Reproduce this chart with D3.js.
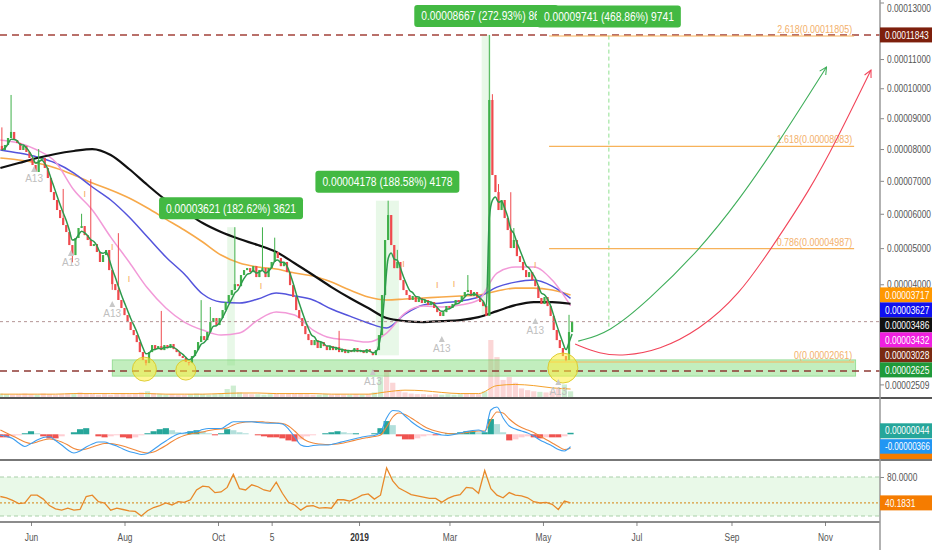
<!DOCTYPE html>
<html><head><meta charset="utf-8">
<script src="https://cdn.jsdelivr.net/npm/d3@7"></script>
<style>
html,body{margin:0;padding:0;background:#fff;}
svg{display:block;font-family:"Liberation Sans",Arial,sans-serif;}
</style></head><body>
<svg id="c" width="932" height="550"></svg>
<script>
// ---------------- DATA (prices in units of 1e-8) ----------------
const candleStart = "2018-05-12";      // one candle = 2 days
const firstOpen = 8100;
const closes = [7969,8130,8355,8550,8291,8195,7969,8100,7905,7715,7493,7275,7650,7715,7400,7087,6655,6413,6112,5873,
5667,5463,5088,4804,5290,5580,5638,5374,5232,5060,5117,4890,4610,4804,4946,4386,4004,3845,3583,3375,
3194,3018,2820,2696,2527,2290,2106,2037,2290,2455,2360,2431,2337,2455,2385,2480,2360,2290,2197,2152,
2060,2037,2197,2337,2527,2670,2575,2770,3018,3118,2943,3118,3322,3530,3713,3845,4004,3950,4250,4386,
4440,4330,4495,4195,4386,4440,4195,4440,4610,4890,4720,4495,4610,4330,3978,3660,3322,3118,2918,2720,
2575,2455,2575,2385,2527,2431,2337,2431,2337,2408,2290,2360,2267,2337,2290,2385,2290,2337,2267,2360,
2290,2220,2337,2696,3713,5232,5963,5088,4440,4610,4113,3845,3713,3583,3687,3530,3635,3505,3583,3451,
3530,3375,3270,3170,3270,3425,3375,3478,3583,3530,3687,3792,3845,3687,3792,3635,3530,3425,3176,9606,
7180,6655,6112,6413,5873,5521,5003,5232,4775,4610,4386,4195,4330,4113,3950,3635,3478,3660,3425,3170,
2820,2575,2385,2197,2106,2770,3028];
const wickHighs = [[0,8700],[3,9774],[12,8000],[20,6750],[26,6000],[29,7050],[38,5430],[52,3300],[65,3580],[68,3400],
[76,5604],[85,5600],[89,5300],[110,2800],[126,6393],[129,4950],[152,4250],[159,11843],[160,9800],[162,6900],[166,6650],[167,5580],[185,3200]];
const wickLows = [[23,4600],[36,3850],[47,1983],[61,1983],[121,2215],[184,2078]];

// indicators sampled every 4 days from candleStart
const macdLine = [-21,-65,-124,-257,-360,-271,-168,-94,-71,-183,-316,-463,-552,-493,-375,-286,-227,-227,-286,-345,
-434,-507,-552,-596,-566,-448,-316,-198,-80,9,38,68,83,142,171,171,171,274,372,372,
372,372,348,333,325,325,304,156,-80,-316,-360,-330,-316,-316,-301,-257,-212,-168,-124,-80,
-50,-35,68,481,702,687,540,378,245,142,83,24,-21,-35,-6,38,83,112,127,68,
717,805,481,245,156,97,38,-50,-168,-257,-345,-448,-493,-366];
const signalLine = [127,38,-50,-139,-227,-271,-227,-168,-139,-168,-227,-316,-419,-463,-434,-375,-316,-271,-271,-301,
-345,-404,-463,-522,-552,-522,-434,-330,-212,-109,-35,9,38,68,112,142,156,186,274,333,
363,372,372,363,348,333,319,245,97,-80,-198,-257,-286,-301,-301,-286,-257,-212,-168,-124,
-94,-65,-21,215,510,628,584,481,363,245,156,97,53,24,9,24,53,83,97,97,
422,658,628,451,304,201,127,53,-50,-153,-257,-360,-448,-410];
const macdHist = [-90,-90,-60,-30,30,90,30,-60,-120,-120,-60,0,60,150,180,0,-60,-90,-60,-30,
-90,-120,-90,-30,30,90,150,180,120,60,30,90,120,90,30,-30,30,150,120,60,
30,0,-30,-60,-90,-90,-120,-180,-210,-150,-60,-30,0,30,60,90,60,30,30,0,
0,30,180,390,270,-60,-150,-150,-120,-60,-30,-30,0,30,30,60,90,90,60,60,
450,300,60,-180,-150,-90,-60,-90,-120,-90,-90,-90,-60,44];
const rsi = [50,48,44,39,40,52,52,46,36,31,29,32,29,30,50,52,42,40,29,32,
30,28,27,20,28,33,36,40,37,42,41,45,60,66,65,56,57,64,84,62,
60,68,65,60,58,72,55,41,37,29,35,36,32,33,32,45,45,43,47,52,
54,46,52,94,74,63,58,53,51,49,47,47,41,47,51,53,64,63,55,90,
62,52,48,56,52,51,48,42,40,41,38,30,43,40.1831];
const volume = [6,5,4,5,6,5,4,6,5,4,5,6,5,8,6,5,4,5,4,5,
6,5,6,8,10,6,5,4,5,4,4,5,6,5,4,5,6,14,20,8,
6,5,5,4,5,6,5,6,7,6,5,4,4,5,4,5,4,4,5,4,
5,8,35,45,25,12,8,6,5,5,4,5,4,5,4,5,6,6,5,10,
100,70,30,35,25,15,12,10,9,8,10,14,22,10];

// moving averages sampled every 12 days from candleStart
const ma200 = [7400,7555,7715,7842,7937,8000,7810,7368,6871,6413,6082,5725,5463,5260,5088,4890,4575,4250,3925,3635,
3375,3118,3043,3018,3043,3068,3143,3296,3451,3530,3530,3486];
const ma100 = [7715,7650,7555,7400,7180,6932,6716,6474,6172,5843,5521,5175,4804,4581,4470,4414,4305,4223,4059,3845,
3661,3583,3609,3635,3661,3687,3713,3818,3898,3898,3845,3717];
const ma50 = [7969,7873,7746,7555,7243,6810,6413,5903,5316,4748,4277,3740,3530,3505,3609,3766,3687,3583,3348,3168,
2993,2870,3220,3451,3505,3557,3661,3925,4058,4113,3951,3627];
const ema21 = [8291,8195,7969,7587,6716,6112,5316,4610,3898,3375,3018,2820,2696,2745,3068,3270,3194,2820,2624,2575,
2527,2745,3245,3425,3400,3451,3583,4305,4470,4470,4113,3432];
const volumeMA = [5,5,5,5,6,6,6,6,6,5,5,5,6,7,7,6,6,6,5,5,5,9,12,11,8,6,6,20,22,20,16,14];

// axis ticks
const priceTicks = [13000,11000,10000,9000,8000,7000,6000,5000,4000];
const timeTickDates = ["2018-06-01","2018-08-01","2018-10-01","2018-11-05","2019-01-01","2019-03-01","2019-05-01","2019-07-01","2019-09-01","2019-11-01"];
const timeTickLabels = ["Jun","Aug","Oct","5","2019","Mar","May","Jul","Sep","Nov"];

// drawings
const fibStart = "2019-05-05", fibEnd = "2019-11-20";
const fibLevels = ["2.618","1.618","0.786","0"];
const fibPrices = [11805,8083,4987,2061];
const zoneBand = {from:"2018-07-24", to:"2019-11-21", low:1745, high:2110};
const hLineTop = 11843, hLineSupport = 1860, lastPrice = 3028;
const measures = [
  {from:"2018-10-07", to:"2018-10-12", low:1983, high:5604, label:"0.00003621 (182.62%) 3621"},
  {from:"2019-01-12", to:"2019-01-27", low:2215, high:6393, label:"0.00004178 (188.58%) 4178"},
  {from:"2019-03-22", to:"2019-03-28", low:3176, high:11843, label:"0.00008667 (272.93%) 8667"}
];
const measure2 = {date:"2019-06-13", low:2820, high:11819, label:"0.00009741 (468.86%) 9741"};
const circles = [["2018-08-14",1900,12],["2018-09-10",1879,10],["2019-05-14",1925,15]];
const greenArrowDates = ["2019-05-24","2019-06-13","2019-07-09","2019-08-11","2019-09-06","2019-10-02","2019-11-02"];
const greenArrowPrices = [2550,2745,3583,4946,6413,8227,10726];
const redArrowDates = ["2019-05-22","2019-06-07","2019-06-23","2019-07-16","2019-08-11","2019-09-06","2019-09-28","2019-10-22","2019-11-08","2019-12-01"];
const redArrowPrices = [2479,2244,2197,2337,2820,3713,5060,6716,8227,10620];
const a13Marks = [["2018-06-03",7087],["2018-06-27",4610],["2018-07-24",3245],["2019-01-10",1640],["2019-02-24",2384],["2019-04-26",2820],["2019-05-11",1428]];
const iMarks = [["2018-07-06",6504],["2018-07-24",4946],["2018-08-04",4058],["2018-10-29",3871],["2019-01-30",4470],["2019-02-21",3898],["2019-03-04",3925],["2019-04-26",4440]];

// right-axis value labels
const stackLabels = [[3717,"#ff9800","#fff"],[3627,"#1010f0","#fff"],[3486,"#111","#fff"],[3432,"#f020e0","#fff"],[3028,"#7a2a12","#fff"],[2625,"#1f9a3a","#fff"],[2509,null,"#555"]];

// ---------------- CHART ----------------
const DAY = 864e5;
const P = s => { const [a,b,c] = s.split("-").map(Number); return new Date(Date.UTC(a,b-1,c)); };
const t0 = P(candleStart).getTime();
const svg = d3.select("#c");
const AX = 880;
const PB = 397, MT = 399, MB = 459, RT = 461, RB = 521;
const NARROW = 0.8;   // horizontal squeeze of the axis font

const x = d3.scaleUtc().domain([P("2018-06-01"), P("2019-11-01")]).range([31, 825]);
const y = d3.scalePow().exponent(0.75).domain([2061, 11805]).range([362, 36]);
const ym = d3.scaleLinear().domain([-700, 900]).range([458.0, 403.8]);
const yr = d3.scaleLinear().domain([0, 100]).range([529, 464]);
const yv = d3.scaleLinear().domain([0, 100]).range([PB, 340]);
const fmt8 = v => (v*1e-8).toFixed(8);
const squeeze = (sel, k, maxW) => sel.each(function(){ let L = this.getComputedTextLength()*k; if (maxW) L = Math.min(L, maxW);
  d3.select(this).attr("textLength", L).attr("lengthAdjust","spacingAndGlyphs"); });

const defs = svg.append("defs");
[["cp",0,PB],["cm",MT,MB],["cr",RT,RB]].forEach(([id,a,b]) =>
  defs.append("clipPath").attr("id",id).append("rect").attr("x",0).attr("y",a).attr("width",AX).attr("height",b-a));
function mk(id,col){ defs.append("marker").attr("id",id).attr("viewBox","0 0 10 10").attr("refX",9).attr("refY",5)
  .attr("markerWidth",9).attr("markerHeight",9).attr("orient","auto-start-reverse").attr("markerUnits","userSpaceOnUse")
  .append("path").attr("d","M1,1 L9,5 L1,9").attr("fill","none").attr("stroke",col).attr("stroke-width",1.2); }
mk("ag","#3fae5a"); mk("ar","#f2455a");

const gP = svg.append("g").attr("clip-path","url(#cp)");
const gM = svg.append("g").attr("clip-path","url(#cm)");
const gR = svg.append("g").attr("clip-path","url(#cr)");

// candles
const candles = closes.map((c,i) => {
  const o = i ? closes[i-1] : firstOpen;
  return {i, o, c, h: Math.max(o,c), l: Math.min(o,c), d: new Date(t0 + (2*i+1)*DAY)};
});
wickHighs.forEach(([i,h]) => candles[i].h = Math.max(candles[i].h, h));
wickLows.forEach(([i,l]) => candles[i].l = Math.min(candles[i].l, l));

// measure rects
measures.forEach(m => {
  gP.append("rect").attr("x", x(P(m.from))).attr("width", x(P(m.to)) - x(P(m.from)))
    .attr("y", y(m.high)).attr("height", y(m.low) - y(m.high)).attr("fill","rgba(76,200,80,0.13)");
});
gP.append("line").attr("x1",x(P(measure2.date))).attr("x2",x(P(measure2.date)))
  .attr("y1",y(measure2.high)).attr("y2",y(measure2.low)).attr("stroke","#8fe08f").attr("stroke-dasharray","4,3").attr("stroke-width",1);

// volume
const indDate = j => new Date(t0 + 4*j*DAY);
gP.selectAll("rect.vol").data(volume).join("rect").attr("class","vol")
  .attr("x",(v,j)=>x(indDate(j))-2.6).attr("width",5.2)
  .attr("y",v=>yv(v)).attr("height",v=>PB-yv(v))
  .attr("fill",(v,j)=>{ const a = closes[Math.min(2*j+1,closes.length-1)], b = closes[Math.max(2*j-1,0)]; return a>=b ? "rgba(80,190,90,0.28)" : "rgba(240,90,90,0.25)"; });
const maDate = k => new Date(t0 + 12*k*DAY);
gP.append("path").datum(volumeMA).attr("fill","none").attr("stroke","#f5a12a").attr("stroke-width",1)
  .attr("d", d3.line().x((v,k)=>x(maDate(k))).y(v=>yv(v)).curve(d3.curveMonotoneX));

// support zone
gP.append("rect").attr("x",x(P(zoneBand.from))).attr("width",x(P(zoneBand.to))-x(P(zoneBand.from)))
  .attr("y",y(zoneBand.high)).attr("height",y(zoneBand.low)-y(zoneBand.high))
  .attr("fill","rgba(110,215,100,0.42)").attr("stroke","rgba(90,200,90,0.6)").attr("stroke-width",0.8);

// moving averages
const maLine = d3.line().x((v,k)=>x(maDate(k))).y(v=>y(v)).curve(d3.curveMonotoneX);
[[ma100,"#f7a94a",1.6],[ma50,"#5454dc",1.5],[ema21,"#f29ad8",1.5],[ma200,"#111",2.2]].forEach(([arr,col,w]) =>
  gP.append("path").datum(arr).attr("fill","none").attr("stroke",col).attr("stroke-width",w).attr("d",maLine));

// candles draw
const upC = "#3fb04a", dnC = "#ef4a4e";
const cg = gP.append("g");
cg.selectAll("line").data(candles).join("line")
  .attr("x1",d=>x(d.d)).attr("x2",d=>x(d.d)).attr("y1",d=>y(d.h)).attr("y2",d=>y(d.l))
  .attr("stroke",d=>d.c>=d.o?upC:dnC).attr("stroke-width",1);
cg.selectAll("rect").data(candles).join("rect")
  .attr("x",d=>x(d.d)-1.1).attr("width",2.2)
  .attr("y",d=>y(Math.max(d.o,d.c))).attr("height",d=>Math.max(1,Math.abs(y(d.o)-y(d.c))))
  .attr("fill",d=>d.c>=d.o?upC:dnC);

// short EMA (green) computed from the candles
const alpha = 2/(4+1); let e = closes[0];
const emaShort = closes.map(c => (e = alpha*c + (1-alpha)*e));
gP.append("path").datum(emaShort).attr("fill","none").attr("stroke","#2e9a4c").attr("stroke-width",1.5)
  .attr("d", d3.line().x((v,i)=>x(new Date(t0+(2*i+1)*DAY))).y(v=>y(v)).curve(d3.curveMonotoneX));

// horizontal lines
gP.append("line").attr("x1",0).attr("x2",AX).attr("y1",y(hLineTop)).attr("y2",y(hLineTop))
  .attr("stroke","#a3413a").attr("stroke-width",1.5).attr("stroke-dasharray","7,5");
gP.append("line").attr("x1",0).attr("x2",AX).attr("y1",y(hLineSupport)).attr("y2",y(hLineSupport))
  .attr("stroke","#8e3a34").attr("stroke-width",1.5).attr("stroke-dasharray","7,5");
gP.append("line").attr("x1",0).attr("x2",AX).attr("y1",y(lastPrice)).attr("y2",y(lastPrice))
  .attr("stroke","#b49494").attr("stroke-width",1).attr("stroke-dasharray","3,3");

// fib
fibPrices.forEach((p,k) => {
  gP.append("line").attr("x1",x(P(fibStart))).attr("x2",x(P(fibEnd))).attr("y1",y(p)).attr("y2",y(p))
    .attr("stroke","#f7b25a").attr("stroke-width",1.2);
  gP.append("text").attr("x",x(P(fibEnd))-2).attr("y",y(p)-3).attr("text-anchor","end")
    .attr("font-size",10.5).attr("fill","#f3b06a").text(`${fibLevels[k]}(${fmt8(p)})`).call(squeeze, 0.85);
});

// circles
circles.forEach(([d,p,r]) => gP.append("circle").attr("cx",x(P(d))).attr("cy",y(p)).attr("r",r)
  .attr("fill","rgba(255,238,60,0.55)").attr("stroke","rgba(220,200,40,0.9)").attr("stroke-width",1));

// marks
a13Marks.forEach(([d,p]) => {
  const cx = x(P(d)), cy = y(p);
  gP.append("path").attr("d",`M${cx-3},${cy-6} L${cx+3},${cy-6} L${cx},${cy-12} Z`).attr("fill","#c8c8c8");
  gP.append("text").attr("x",cx).attr("y",cy+4).attr("text-anchor","middle").attr("font-size",10).attr("fill","#c0c0c0").text("A13");
});
iMarks.forEach(([d,p]) => gP.append("text").attr("x",x(P(d))).attr("y",y(p)).attr("text-anchor","middle")
  .attr("font-size",9).attr("fill","#f5a55a").text("I"));

// arrows
const arrowLine = d3.line().x(d=>x(P(d[0]))).y(d=>y(d[1])).curve(d3.curveBasis);
gP.append("path").datum(greenArrowDates.map((d,i)=>[d,greenArrowPrices[i]])).attr("fill","none")
  .attr("stroke","#3fae5a").attr("stroke-width",1.1).attr("marker-end","url(#ag)").attr("d",arrowLine);
svg.append("path").datum(redArrowDates.map((d,i)=>[d,redArrowPrices[i]])).attr("fill","none")
  .attr("stroke","#f2455a").attr("stroke-width",1.1).attr("marker-end","url(#ar)").attr("d",arrowLine);

// measure labels
function greenLabel(cx, bottom, txt){
  const g = svg.append("g");
  const r = g.append("rect").attr("rx",3).attr("fill","#43b943");
  const t = g.append("text").attr("x",cx).attr("y",bottom-6.5).attr("text-anchor","middle")
    .attr("font-size",12.5).attr("fill","#fff").text(txt);
  const L = t.node().getComputedTextLength()*0.82;
  t.attr("textLength",L).attr("lengthAdjust","spacingAndGlyphs");
  const w = L + 14;
  r.attr("x",cx-w/2).attr("width",w).attr("y",bottom-22).attr("height",22);
}
measures.forEach(m => greenLabel((x(P(m.from))+x(P(m.to)))/2, y(m.high)-8, m.label));
greenLabel(x(P(measure2.date)), y(measure2.high)-8, measure2.label);

// ---------- MACD pane ----------
const bw = 6.13;
gM.selectAll("rect").data(macdHist).join("rect")
  .attr("x",(v,j)=>x(indDate(j))-bw/2).attr("width",bw)
  .attr("y",v=>Math.min(ym(v),ym(0))).attr("height",v=>Math.abs(ym(v)-ym(0)))
  .attr("fill",(v,j)=>{ const p = j? macdHist[j-1] : v;
    if (v>=0) return v>=p ? "#26a69a" : "#b2dfdb"; return v<=p ? "#ef5350" : "#ffcdd2"; });
const mLine = d3.line().x((v,j)=>x(indDate(j))).y(v=>ym(v)).curve(d3.curveMonotoneX);
gM.append("path").datum(signalLine).attr("fill","none").attr("stroke","#f0883a").attr("stroke-width",1.1).attr("d",mLine);
gM.append("path").datum(macdLine).attr("fill","none").attr("stroke","#3d9ef0").attr("stroke-width",1.1).attr("d",mLine);

// ---------- RSI pane ----------
gR.append("rect").attr("x",0).attr("width",AX).attr("y",yr(80)).attr("height",yr(20)-yr(80)).attr("fill","rgba(120,220,110,0.16)");
[80,20].forEach(v => gR.append("line").attr("x1",0).attr("x2",AX).attr("y1",yr(v)).attr("y2",yr(v))
  .attr("stroke","#a9cfa9").attr("stroke-dasharray","4,3"));
gR.append("line").attr("x1",0).attr("x2",AX).attr("y1",yr(rsi[rsi.length-1])).attr("y2",yr(rsi[rsi.length-1]))
  .attr("stroke","#d99a3a").attr("stroke-width",1.2).attr("stroke-dasharray","2,2");
gR.append("path").datum(rsi).attr("fill","none").attr("stroke","#e8892a").attr("stroke-width",1.3)
  .attr("d", d3.line().x((v,j)=>x(indDate(j))).y(v=>yr(v)));

// separators
[[PB+1,"#555",2],[MB+1,"#777",2]].forEach(([yy,c,w]) =>
  svg.append("line").attr("x1",0).attr("x2",932).attr("y1",yy).attr("y2",yy).attr("stroke",c).attr("stroke-width",w));

// ---------- Axes ----------
const axisFont = g => g.selectAll("text").attr("font-size",10.5).attr("fill","#555").call(squeeze, NARROW, 44);
const yAx = svg.append("g").attr("transform",`translate(${AX},0)`)
  .call(d3.axisRight(y).tickValues(priceTicks).tickFormat(fmt8).tickSize(4).tickPadding(3));
yAx.select(".domain").remove(); yAx.selectAll("line").attr("stroke","#888"); axisFont(yAx);
yAx.selectAll(".tick").filter(d => y(d) < 8).select("text").attr("y", d => 8 - y(d));
const rAx = svg.append("g").attr("transform",`translate(${AX},0)`)
  .call(d3.axisRight(yr).tickValues([80]).tickFormat(d=>d.toFixed(4)).tickSize(4).tickPadding(3));
rAx.select(".domain").remove(); rAx.selectAll("line").attr("stroke","#888"); axisFont(rAx);

const xAx = svg.append("g").attr("transform",`translate(0,${RB+1})`)
  .call(d3.axisBottom(x).tickValues(timeTickDates.map(P)).tickFormat((d,i)=>timeTickLabels[i]).tickSize(4).tickPadding(8));
xAx.select(".domain").remove(); xAx.selectAll("line").attr("stroke","#888");
xAx.selectAll("text").attr("font-size",10.5).attr("fill","#555").call(squeeze, NARROW);
xAx.selectAll("text").filter((d,i)=>timeTickLabels[i]==="2019").attr("font-weight","bold").attr("fill","#333");
svg.append("line").attr("x1",0).attr("x2",AX).attr("y1",RB+1).attr("y2",RB+1).attr("stroke","#666").attr("stroke-width",1.5);
svg.append("line").attr("x1",AX).attr("x2",AX).attr("y1",0).attr("y2",550).attr("stroke","#999").attr("stroke-width",1.5);

// value labels on the axis
function axisBox(yc, txt, bg, fg, clipBot){
  const g = svg.append("g");
  let top = yc-7.5, bot = yc+7.5;
  if (clipBot !== undefined) bot = Math.min(bot, clipBot);
  if (bg) g.append("rect").attr("x",AX).attr("y",top).attr("width",932-AX).attr("height",Math.max(0,bot-top)).attr("fill",bg);
  else g.append("line").attr("x1",AX).attr("x2",AX+4).attr("y1",yc).attr("y2",yc).attr("stroke","#888");
  if (clipBot === undefined || yc+4 < clipBot)
    g.append("text").attr("x",AX+5).attr("y",yc+3.7).attr("font-size",10.5).attr("fill",fg).text(txt).call(squeeze, NARROW, 45);
}
axisBox(y(hLineTop), fmt8(hLineTop), "#7d1f0c", "#fff");
let prev = -1e9;
stackLabels.forEach(([v,bg,fg]) => { const yc = Math.max(y(v), prev + 15); prev = yc; axisBox(yc, fmt8(v), bg, fg); });
const histLast = macdHist[macdHist.length-1], macdLast = macdLine[macdLine.length-1], sigLast = signalLine[signalLine.length-1];
axisBox(ym(histLast)-2, fmt8(histLast), "#26a69a", "#fff");
axisBox(ym(macdLast), fmt8(macdLast), "#2196f3", "#fff");
axisBox(Math.max(ym(sigLast), ym(macdLast)+14.5), fmt8(sigLast), "#f57c00", "#fff", MB);
axisBox(yr(rsi[rsi.length-1]), rsi[rsi.length-1].toFixed(4), "#f57c00", "#fff");
</script>
</body></html>
